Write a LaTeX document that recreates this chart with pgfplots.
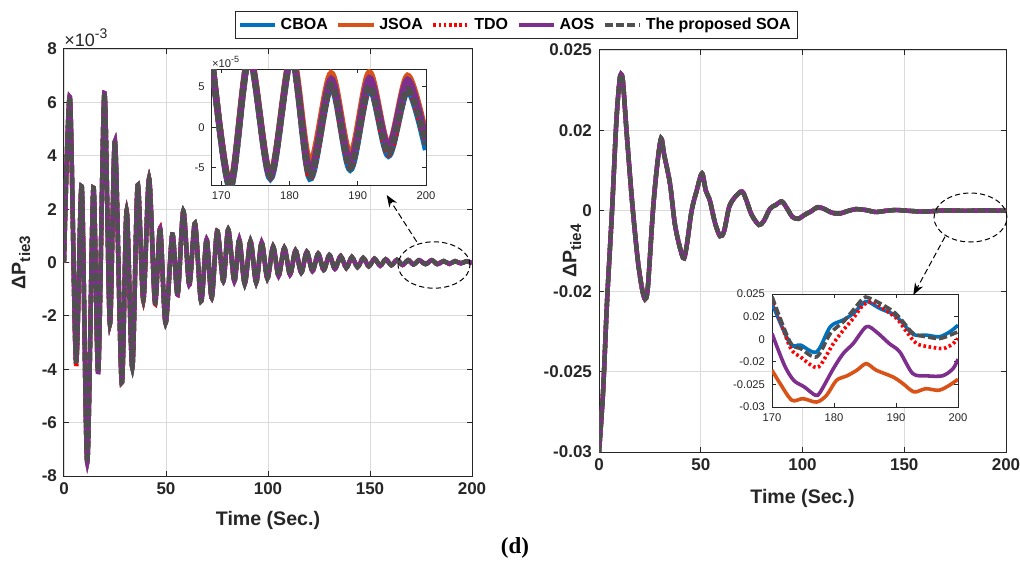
\documentclass[border=0pt]{standalone}
\usepackage{fontspec}
\setmainfont{Liberation Sans}
\newfontfamily\capfont{Liberation Serif}
\usepackage{pgfplots}
\pgfplotsset{compat=1.18}
\usepackage{pgfplotstable}
\usetikzlibrary{arrows.meta}

\definecolor{cb}{RGB}{0,114,189}
\definecolor{jo}{RGB}{217,83,25}
\definecolor{td}{RGB}{255,0,0}
\definecolor{ao}{RGB}{126,47,142}
\definecolor{so}{RGB}{80,80,80}
\definecolor{ax}{RGB}{38,38,38}

\pgfplotsset{
  mainax/.style={scale only axis, anchor=south west, scaled ticks=false,
    axis line style={ax, line width=0.5pt}, tick align=inside, major tick length=2.5pt,
    tick style={ax, line width=0.5pt}, grid=major, major grid style={black!14, line width=0.4pt},
    ticklabel style={font=\fontsize{8.5}{10}\selectfont\bfseries, text=ax},
    label style={font=\fontsize{9.8}{11}\selectfont\bfseries, text=ax},
    xlabel style={at={(axis description cs:0.5,0)}, anchor=center},
    xmin=0, xmax=200, xtick={0,50,100,150,200}, xticklabels={0,50,100,150,200}},
  insax/.style={scale only axis, anchor=south west, scaled ticks=false, axis background/.style={fill=white},
    axis line style={ax, line width=0.5pt}, tick align=inside, major tick length=2pt,
    tick style={ax, line width=0.4pt},
    ticklabel style={font=\fontsize{5.6}{6.5}\selectfont, text=ax}},
  cboa/.style={cb, solid, smooth},
  jsoa/.style={jo, solid, smooth},
  tdo/.style={td, smooth, dash pattern=on 1.3pt off 1.3pt},
  aos/.style={ao, solid, smooth},
  soa/.style={so, smooth, dash pattern=on 4pt off 1.6pt},
}

\pgfplotstableread{
t v d
0 0 0
2.9 6.2 6.1
5.9 -3.7 -3.9
8.7 2.85 2.9
11.4 -7.5 -7.4
14.4 2.8 2.8
16.8 -4.1 -4.1
19.8 6.35 6.3
22.5 -2.3 -2.3
25.0 4.55 4.5
28.3 -4.5 -4.5
30.7 1.93 1.95
33.5 -3.95 -3.95
36.1 2.9 2.9
38.9 -1.4 -1.45
41.7 3.15 3.15
44.6 -1.5 -1.55
47.1 1.27 1.3
49.8 -2.27 -2.3
53.1 1.05 1.05
55.7 -1.2 -1.2
58.5 1.93 1.93
61.4 -0.83 -0.85
64.2 1.47 1.47
67.2 -1.45 -1.45
69.9 0.86 0.86
72.4 -1.32 -1.32
75.1 1.18 1.18
78.1 -0.7 -0.7
80.5 1.24 1.24
83.5 -0.7 -0.7
85.9 0.86 0.86
88.6 -0.8 -0.8
91.4 0.8 0.8
94.2 -0.75 -0.75
96.9 0.75 0.75
99.7 -0.6 -0.6
102.5 0.6 0.6
105.2 -0.5 -0.5
108.0 0.55 0.55
110.8 -0.45 -0.45
113.5 0.45 0.45
116.3 -0.38 -0.38
119.0 0.4 0.4
121.8 -0.32 -0.32
124.6 0.33 0.33
127.3 -0.28 -0.28
130.1 0.28 0.28
132.8 -0.24 -0.24
135.6 0.24 0.24
138.4 -0.2 -0.2
141.1 0.2 0.2
143.9 -0.17 -0.17
146.7 0.17 0.17
149.4 -0.14 -0.14
152.2 0.14 0.14
155.0 -0.12 -0.12
157.7 0.12 0.12
160.5 -0.1 -0.1
163.2 0.1 0.1
166.0 -0.09 -0.09
168.7 0.09 0.09
171.3 -0.075 -0.075
174.1 0.085 0.085
177.2 -0.06 -0.06
180.3 0.085 0.085
183.0 -0.06 -0.06
186.1 0.052 0.052
188.9 -0.05 -0.05
191.7 0.05 0.05
194.5 -0.032 -0.032
197.3 0.047 0.047
200 -0.022 -0.022
}\leftmain

\pgfplotstableread{
t s c j a d
168.6 8.6 8.6 8.6 8.6 8.6
171.3 -7.4 -7.5 -7.0 -7.2 -7.3
174.1 8.6 8.6 9.0 8.8 8.6
177.2 -6.0 -6.3 -5.8 -6.0 -6.1
180.3 8.6 8.6 9.2 8.8 8.6
183.0 -6.0 -6.3 -4.4 -5.4 -6.1
186.1 5.2 5.0 6.6 5.9 5.1
188.9 -5.0 -5.2 -3.4 -4.2 -4.9
191.7 5.0 4.8 6.7 6.0 5.0
194.5 -3.2 -3.5 -2.2 -2.4 -3.3
197.3 4.65 4.5 6.3 5.8 4.6
200 -2.2 -2.8 -1.1 -1.6 -2.0
}\leftinset

\pgfplotstableread{
t v
0 -0.06
2 -0.045
4 -0.022
6.4 0
8.5 0.022
10 0.032
10.8 0.034
11.8 0.032
13.5 0.02
16.3 0.002
19 -0.012
21 -0.019
22.6 -0.022
24 -0.019
26.5 0
28.5 0.011
30.5 0.018
32 0.014
34.9 0.0067
37.5 -0.004
41.3 -0.0117
43 -0.009
45.5 0
48 0.005
50.6 0.0093
52.5 0.005
54.5 0.0025
57 -0.003
59.5 -0.0063
61.5 -0.005
64 0.001
67 0.0035
70.3 0.0048
72.5 0.0025
75 -0.001
78.6 -0.0035
81 -0.0025
84 0.0005
87 0.0015
89.9 0.0023
92.5 0.0005
95 -0.0015
97.8 -0.002
101 -0.001
104 -0.0002
107.5 0.0009
111 0.0004
114 -0.0004
118 -0.0007
122 -0.0001
126 0.0004
131 0.0002
136 -0.0003
141 0
146 0.0002
152 0
160 -0.0002
170 0.0001
180 0
190 0.0001
200 0
}\rightmain

\begin{document}
\begin{tikzpicture}
\useasboundingbox (0,0) rectangle (510pt,287.5pt);

% ---------- left main ----------
\begin{axis}[mainax, at={(32pt,49.5pt)}, width=204pt, height=213.5pt,
  ymin=-8, ymax=8, ytick={-8,-6,-4,-2,0,2,4,6,8}, yticklabels={-8,-6,-4,-2,0,2,4,6,8},
  xlabel={Time (Sec.)}, xlabel style={yshift=-22pt},
  ylabel={ΔP\raisebox{-0.45ex}{\fontsize{7.6}{8}\selectfont tie3}},
  ylabel style={at={(axis description cs:-0.105,0.5)}, anchor=center},
  legend style={at={(1.109,1.056)}, anchor=center, legend columns=5, draw=ax, line width=0.5pt,
    font=\fontsize{8}{9}\selectfont\bfseries, inner sep=1.2pt,
    /tikz/every even column/.append style={column sep=2.5pt}},
  legend image code/.code={\draw[#1, line width=1.6pt] (0cm,0cm) -- (0.62cm,0cm);},
  every axis plot/.append style={line width=2.2pt}]
\addplot[cboa] table[x=t,y=v]{\leftmain};
\addplot[jsoa] table[x=t,y=v]{\leftmain};
\addplot[tdo] table[x=t,y=d]{\leftmain};
\addplot[aos] table[x=t,y=v]{\leftmain};
\addplot[soa] table[x=t,y=v]{\leftmain};
\legend{CBOA,JSOA,TDO,AOS,The proposed SOA}
\end{axis}
\node[anchor=south west, inner sep=0, font=\fontsize{9}{10}\selectfont, text=ax] at (32pt,264pt)
  {×10\raisebox{0.85ex}{\fontsize{7}{8}\selectfont -3}};

% ---------- left inset ----------
\begin{axis}[insax, at={(105.85pt,195pt)}, width=107.15pt, height=57.85pt,
  xmin=168.6, xmax=200, ymin=-7.1, ymax=7.1,
  xtick={170,180,190,200}, xticklabels={170,180,190,200},
  ytick={-5,0,5}, yticklabels={-5,0,5},
  every axis plot/.append style={line width=3.2pt}]
\addplot[cboa] table[x=t,y=c]{\leftinset};
\addplot[jsoa] table[x=t,y=j]{\leftinset};
\addplot[tdo] table[x=t,y=d]{\leftinset};
\addplot[aos] table[x=t,y=a]{\leftinset};
\addplot[soa] table[x=t,y=s]{\leftinset};
\end{axis}
\node[anchor=south west, inner sep=0, font=\fontsize{5.6}{6}\selectfont, text=ax] at (105.85pt,253.6pt)
  {×10\raisebox{0.8ex}{\fontsize{4.5}{5}\selectfont -5}};

% ---------- right main ----------
\begin{axis}[mainax, at={(299.5pt,61.5pt)}, width=203.5pt, height=201pt,
  ymin=-0.06, ymax=0.04, ytick={-0.06,-0.04,-0.02,0,0.02,0.04},
  yticklabels={-0.03,-0.025,-0.02,0,0.02,0.025},
  xlabel={Time (Sec.)}, xlabel style={yshift=-23pt},
  ylabel={ΔP\raisebox{-0.45ex}{\fontsize{7.6}{8}\selectfont tie4}},
  ylabel style={at={(axis description cs:-0.066,0.5)}, anchor=center},
  every axis plot/.append style={line width=2.2pt}]
\addplot[cboa] table[x=t,y=v]{\rightmain};
\addplot[jsoa] table[x=t,y=v]{\rightmain};
\addplot[tdo] table[x=t,y=v]{\rightmain};
\addplot[aos] table[x=t,y=v]{\rightmain};
\addplot[soa] table[x=t,y=v]{\rightmain};
\end{axis}

% ---------- right inset ----------
\begin{axis}[insax, at={(386pt,84pt)}, width=93pt, height=56.5pt,
  xmin=170, xmax=200, ymin=0, ymax=5,
  xtick={170,180,190,200}, xticklabels={170,180,190,200},
  ytick={0,1,2,3,4,5}, yticklabels={-0.03,-0.025,-0.02,0,0.02,0.025},
  every axis plot/.append style={line width=1.8pt}]
\addplot[cboa] coordinates {(170,4.59) (172.9,2.81) (174.6,2.74) (177.2,2.44) (179.4,3.55) (181.5,3.85) (183.1,4.14) (184.7,4.59) (185.5,4.66) (187.4,4.36) (189.6,4.10) (190.9,3.77) (192.8,3.21) (194.9,3.18) (197,3.11) (198.7,3.33) (200,3.62)};
\addplot[jsoa] coordinates {(170,1.63) (171.3,1.04) (173.2,0.30) (175,0.37) (177.2,0.22) (178.8,0.52) (180.4,1.18) (182.1,1.38) (183.7,1.63) (185.2,1.92) (186.8,1.63) (189.5,1.33) (191.1,1.04) (192.9,0.67) (194.8,0.81) (196.9,0.74) (198.6,0.96) (200,1.23)};
\addplot[tdo] coordinates {(170,4.84) (172.9,2.66) (174.6,2.22) (176.7,1.78) (177.8,1.85) (179.9,2.81) (181.5,3.40) (183.1,3.92) (184.7,4.51) (186.1,4.66) (187.9,4.36) (190.1,3.92) (191.7,3.33) (193.3,2.81) (195.4,2.66) (197.7,2.59) (199.2,2.81) (200,3.03)};
\addplot[aos] coordinates {(170,3.25) (172,1.85) (173.5,1.18) (175.2,0.89) (177,0.52) (177.8,0.67) (179.9,1.70) (181.5,2.37) (183.1,2.81) (185.2,3.55) (186.8,3.33) (188.9,2.81) (190.6,2.44) (192.7,1.48) (194.9,1.38) (197.5,1.38) (199.2,1.70) (200,2.12)};
\addplot[soa] coordinates {(170,4.88) (172.9,2.88) (174.6,2.59) (177.2,2.22) (179.4,3.25) (181.5,3.77) (183.1,4.29) (184.7,4.81) (185.5,4.84) (187.4,4.59) (189.6,4.22) (190.9,3.85) (192.8,3.25) (194.9,3.11) (197,3.03) (198.7,3.18) (200,3.33)};
\end{axis}

% ---------- annotations ----------
\draw[black, line width=0.5pt, dash pattern=on 2.6pt off 1.6pt] (217pt,155pt) ellipse [x radius=18pt, y radius=11.6pt];
\draw[black, line width=0.5pt, dash pattern=on 3pt off 1.6pt, -{Stealth[length=6pt,width=4.5pt]}] (208.35pt,166.65pt) -- (193.35pt,190pt);
\draw[black, line width=0.5pt, dash pattern=on 2.6pt off 1.6pt] (485.25pt,178.75pt) ellipse [x radius=18.25pt, y radius=12.25pt];
\draw[black, line width=0.5pt, dash pattern=on 3pt off 1.6pt, -{Stealth[length=6pt,width=4.5pt]}] (472.5pt,169.15pt) -- (456.65pt,140pt);

\node[font=\capfont\bfseries\fontsize{11.5}{13}\selectfont] at (257.5pt,13.5pt) {(d)};
\end{tikzpicture}
\end{document}
